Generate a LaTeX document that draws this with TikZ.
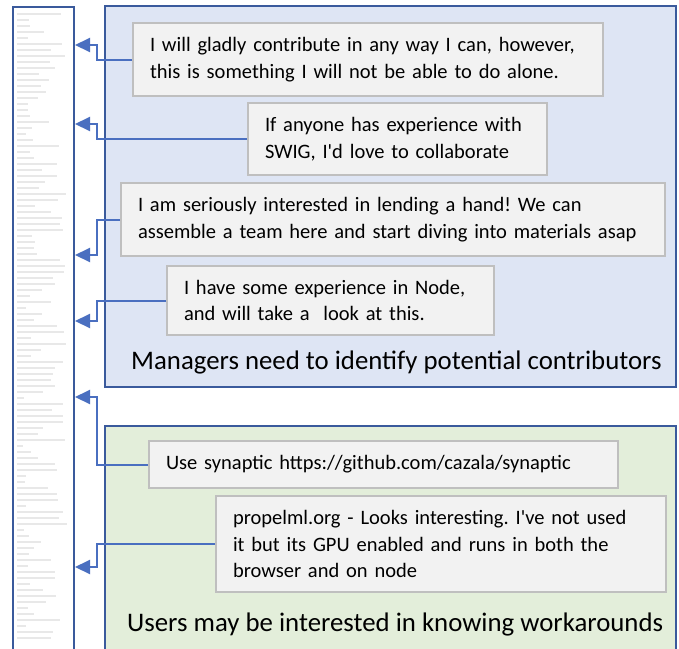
\documentclass[tikz,border=0pt]{standalone}
\usepackage{fontspec}
\setmainfont{Carlito}
\usetikzlibrary{arrows.meta}
\definecolor{panelblue}{HTML}{DEE5F4}
\definecolor{panelgreen}{HTML}{E3EEDA}
\definecolor{frameblue}{HTML}{3A5A9C}
\definecolor{linkblue}{HTML}{4A6FC0}
\definecolor{notegray}{HTML}{F2F2F2}
\definecolor{noteline}{HTML}{BFBFBF}
\frenchspacing

\begin{document}
\begin{tikzpicture}[x=1pt,y=-1pt,
	note/.style={draw=noteline,line width=2pt,fill=notegray,anchor=north west,inner xsep=17pt,inner ysep=0pt,align=left,font=\fontsize{20.5}{26.5}\selectfont},
	link/.style={draw=linkblue,line width=2pt,-{Triangle[length=15pt,width=14pt]}},
	panel/.style={draw=frameblue,line width=2pt},
	heading/.style={anchor=base west,inner sep=0pt,font=\fontsize{26.8}{30}\selectfont},
	scan/.style={black!9,line width=1.1pt}]
	\useasboundingbox (0,0) rectangle (679,648);
	\fill[white] (0,0) rectangle (679,648);
	\draw[panel,fill=panelblue] (105,6) rectangle (676,387);
	\draw[panel,fill=panelgreen] (105,426) rectangle (676,660);
	\node[draw=frameblue,line width=2pt,fill=white,minimum width=61pt,minimum height=660pt,anchor=north west,inner sep=0pt] (strip) at (12,6) {};
	\pgfmathsetseed{7}
	\foreach \k in {0,...,104}{
		\pgfmathsetmacro{\len}{6+rnd*44}
		\draw[scan] (17,14+6*\k) -- ++(\len,0);
	}
	\node[note,text width=436pt,minimum height=73pt] (c1) at (132,22) {I will gladly contribute in any way I can, however,\\this is something I will not be able to do alone.};
	\node[note,text width=265pt,minimum height=72pt] (c2) at (247,102) {If anyone has experience with\\SWIG, I\textquotesingle d love to collaborate};
	\node[note,text width=510pt,minimum height=73pt] (c3) at (120,182) {I am seriously interested in lending a hand! We can\\assemble a team here and start diving into materials asap};
	\node[note,text width=293pt,minimum height=69pt] (c4) at (166,265) {I have some experience in Node,\\and will take a~ look at this.};
	\node[heading] (mgr) at (131,369) {Managers need to identify potential contributors};
	\node[note,text width=435pt,minimum height=47pt] (w1) at (148,440) {Use synaptic https://github.com/cazala/synaptic};
	\node[note,text width=416pt,minimum height=96pt] (w2) at (215,495) {propelml.org - Looks interesting. I\textquotesingle ve not used\\it but its GPU enabled and runs in both the\\browser and on node};
	\node[heading] (usr) at (127,631) {Users may be interested in knowing workarounds};
	\coordinate (bus) at (97,0);
	\coordinate (t1) at (75,45);
	\coordinate (t2) at (75,124);
	\coordinate (t3) at (75,255);
	\coordinate (t4) at (75,321);
	\coordinate (t5) at (75,397);
	\coordinate (t6) at (75,567);
	\draw[link] (c1.west) -- (c1.west -| bus) |- (t1);
	\draw[link] (c2.west) -- (c2.west -| bus) |- (t2);
	\draw[link] (c3.west) -- (c3.west -| bus) |- (t3);
	\draw[link] (c4.west) -- (c4.west -| bus) |- (t4);
	\draw[link] (w1.west) -- (w1.west -| bus) |- (t5);
	\draw[link] (w2.west) -- (w2.west -| bus) |- (t6);
\end{tikzpicture}
\end{document}
